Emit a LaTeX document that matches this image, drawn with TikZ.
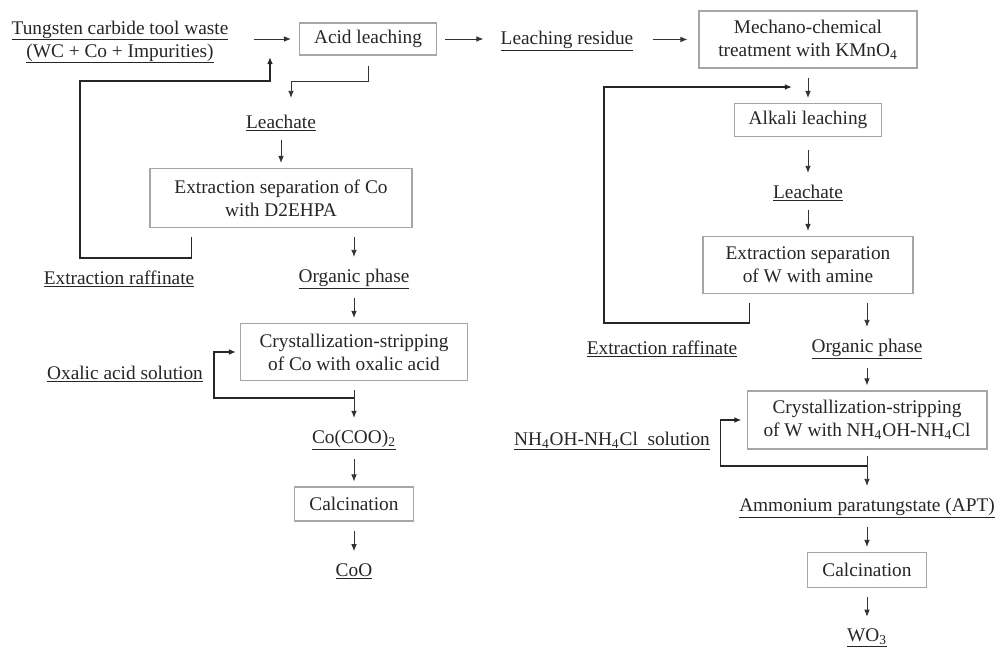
\documentclass[tikz,border=0pt]{standalone}
\usepackage{fontspec}
\setmainfont{Liberation Serif}
\usetikzlibrary{arrows.meta}
\newcommand{\ulab}[1]{\leavevmode\vtop{\hbox{#1}\kern0.6pt\hrule height 0.5pt}}

\begin{document}
\begin{tikzpicture}[
    x=0.02cm, y=-0.02cm,
    font=\fontsize{11}{13}\selectfont,
    process box/.style={rectangle, draw=gray!70, line width=0.6pt, fill=white, align=center, inner sep=2pt, text=black!85},
    stream label/.style={inner sep=0pt, align=center, text=black!85},
    flow/.style={-{Latex[length=4pt,width=3.2pt]}, line width=0.5pt, draw=black!80, shorten <=0.18cm, shorten >=0.1cm},
    to label/.style={shorten >=0.24cm},
    recycle/.style={-{Latex[length=4pt,width=3.2pt]}, line width=0.8pt, draw=black!85}
]
\useasboundingbox (0,0) rectangle (995,648);

% Cobalt branch
\node[stream label] (waste) at (120,42) {\ulab{Tungsten carbide tool waste}\\\ulab{(WC + Co + Impurities)}};
\node[process box, minimum width=2.74cm, minimum height=0.64cm] (acid) at (368,39) {Acid leaching};
\node[stream label] (leachCo) at (281,123) {\ulab{Leachate}};
\node[process box, minimum width=5.24cm, minimum height=1.18cm] (extrCo) at (281,198) {Extraction separation of Co\\with D2EHPA};
\node[stream label] (raffCo) at (119,279) {\ulab{Extraction raffinate}};
\node[stream label] (orgCo) at (354,279) {\ulab{Organic phase}};
\node[process box, minimum width=4.54cm, minimum height=1.14cm] (crystCo) at (354,352) {Crystallization-stripping\\of Co with oxalic acid};
\node[stream label] (oxalic) at (125,374) {\ulab{Oxalic acid solution}};
\node[stream label] (oxalate) at (354,440) {\ulab{Co(COO)\textsubscript{2}}};
\node[process box, minimum width=2.38cm, minimum height=0.68cm] (calcCo) at (354,504) {Calcination};
\node[stream label] (cobaltOx) at (354,571) {\ulab{CoO}};

% Tungsten branch
\node[stream label] (residue) at (567,41) {\ulab{Leaching residue}};
\node[process box, minimum width=4.36cm, minimum height=1.14cm] (mechano) at (808,39.5) {Mechano-chemical\\treatment with KMnO\textsubscript{4}};
\node[process box, minimum width=2.94cm, minimum height=0.66cm] (alkali) at (808,120) {Alkali leaching};
\node[stream label] (leachW) at (808,193) {\ulab{Leachate}};
\node[process box, minimum width=4.2cm, minimum height=1.14cm] (extrW) at (808,265) {Extraction separation\\of W with amine};
\node[stream label] (raffW) at (662,349) {\ulab{Extraction raffinate}};
\node[stream label] (orgW) at (867,349) {\ulab{Organic phase}};
\node[process box, minimum width=4.8cm, minimum height=1.16cm] (crystW) at (867,420) {Crystallization-stripping\\of W with NH\textsubscript{4}OH-NH\textsubscript{4}Cl};
\node[stream label] (ammonia) at (612,441) {\ulab{NH\textsubscript{4}OH-NH\textsubscript{4}Cl~~solution}};
\node[stream label] (apt) at (867,508) {\ulab{Ammonium paratungstate (APT)}};
\node[process box, minimum width=2.38cm, minimum height=0.7cm] (calcW) at (867,570) {Calcination};
\node[stream label] (tungstenOx) at (867,638) {\ulab{WO\textsubscript{3}}};

% Joints on the main flow
\coordinate (feedCo) at (270,39);
\coordinate (mixCo) at (354,398);
\coordinate (feedW) at (808,87);
\coordinate (mixW) at (867,466);

% Cobalt flow
\draw[flow, shorten <=0.5cm, shorten >=0.16cm] (waste.east |- acid) -- (acid);
\draw[flow, shorten <=0.2cm, shorten >=0.34cm] (acid.south) -- ++(0,26) -| ([xshift=0.2cm]leachCo.north);
\draw[flow] (leachCo) -- (extrCo);
\draw[flow, to label] (extrCo.south -| orgCo) -- (orgCo);
\draw[flow] (orgCo) -- (crystCo);
\draw[flow, to label] (crystCo) -- (oxalate);
\draw[flow] (oxalate) -- (calcCo);
\draw[flow, to label] (calcCo) -- (cobaltOx);

% Cobalt recycle
\draw[recycle, shorten <=0.18cm] ([xshift=0.84cm]extrCo.south west) |- (80,258) |- (270,81) -- ([yshift=-0.36cm]feedCo);
\draw[recycle, shorten >=0.08cm] (mixCo) -| ([xshift=-0.52cm]crystCo.west) -- (crystCo.west);

% Tungsten flow
\draw[flow, shorten <=0.16cm, shorten >=0.34cm] (acid) -- (residue.west |- acid);
\draw[flow, shorten <=0.38cm, shorten >=0.22cm] (residue.east |- mechano) -- (mechano);
\draw[flow] (mechano) -- (alkali);
\draw[flow, to label, shorten <=0.26cm] (alkali) -- (leachW);
\draw[flow] (leachW) -- (extrW);
\draw[flow, to label] (extrW.south -| orgW) -- (orgW);
\draw[flow] (orgW) -- (crystW);
\draw[flow, to label, shorten <=0.12cm] (crystW) -- (apt);
\draw[flow] (apt) -- (calcW);
\draw[flow, to label] (calcW) -- (tungstenOx);

% Tungsten recycle
\draw[recycle, shorten <=0.18cm] ([xshift=0.94cm]extrW.south west) |- (604,323) |- ([xshift=-0.32cm]feedW);
\draw[recycle, shorten >=0.1cm] (mixW) -| ([xshift=-0.52cm]crystW.west) -- (crystW.west);

\end{tikzpicture}
\end{document}
